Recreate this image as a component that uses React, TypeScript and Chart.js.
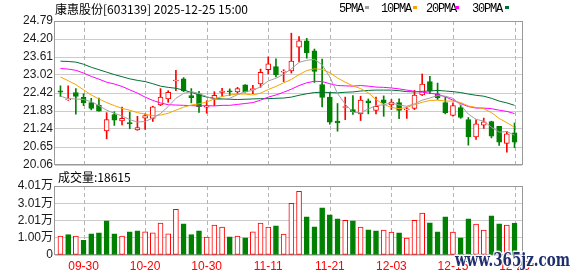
import React, { useEffect, useRef } from 'react';
import { Chart, registerables } from 'chart.js';
Chart.register(...registerables);

const DATES = ['09-25','09-26','09-29','09-30','10-09','10-10','10-13','10-14','10-15','10-16','10-17','10-20','10-21','10-22','10-23','10-24','10-27','10-28','10-29','10-30','10-31','11-03','11-04','11-05','11-06','11-07','11-10','11-11','11-12','11-13','11-14','11-17','11-18','11-19','11-20','11-21','11-24','11-25','11-26','11-27','11-28','12-01','12-02','12-03','12-04','12-05','12-08','12-09','12-10','12-11','12-12','12-15','12-16','12-17','12-18','12-19','12-22','12-23','12-24','12-25'];

const OPEN = [22.50,22.20,22.44,22.28,22.11,22.02,21.18,21.72,21.51,21.45,21.21,21.60,21.59,22.03,22.23,
  22.82,22.89,22.34,22.40,21.96,22.23,22.44,22.49,22.46,22.69,22.53,22.72,23.19,23.29,23.11,
  23.15,23.93,24.14,23.81,22.70,22.29,21.50,21.95,21.88,21.74,22.17,21.85,22.20,22.03,22.11,
  21.87,21.92,22.36,22.80,22.40,22.11,21.69,21.95,21.55,20.98,21.37,21.49,21.33,20.77,21.12];
const HIGH = [22.66,22.66,22.57,22.40,22.25,22.26,21.78,21.81,21.96,21.80,21.66,21.74,21.99,22.57,22.50,
  23.17,22.93,22.57,22.48,22.17,22.47,22.58,22.56,22.61,22.70,22.68,23.21,23.61,23.55,23.19,
  24.39,24.28,24.22,23.87,23.54,22.45,22.08,22.29,22.34,22.32,22.23,22.29,22.33,22.21,22.23,
  21.97,22.51,23.05,22.97,22.75,22.28,22.10,22.03,21.62,21.55,21.60,21.50,21.33,21.17,21.44];
const LOW = [22.31,22.18,21.73,22.01,21.87,21.83,20.92,21.36,21.38,21.25,21.20,21.23,21.49,22.01,22.12,
  22.50,22.47,22.10,21.79,21.76,22.01,22.32,22.34,22.41,22.45,22.40,22.61,23.05,22.95,22.80,
  23.08,23.45,23.57,22.77,21.97,21.40,21.17,21.55,21.72,21.52,21.74,21.74,21.66,21.88,21.58,
  21.59,21.88,22.34,22.40,22.21,21.74,21.66,21.59,20.71,20.90,21.26,20.95,20.70,20.48,20.63];
const CLOSE = [22.45,22.22,22.31,22.10,21.92,21.83,21.55,21.53,21.59,21.41,21.29,21.68,21.97,22.29,22.45,
  22.85,22.49,22.27,21.98,22.00,22.35,22.49,22.46,22.57,22.46,22.57,23.10,23.38,23.02,23.14,
  23.47,24.14,23.75,23.13,22.28,21.47,21.44,21.97,21.81,22.19,22.10,21.99,22.10,22.13,21.85,
  21.89,22.36,22.72,22.49,22.26,21.78,22.01,21.62,20.98,21.41,21.48,21.01,20.81,21.08,20.81];
const PREV_CLOSE = 22.38;

const VOLUME = [11000,11800,11000,8500,12300,12900,19900,12300,11000,13500,14100,13500,12900,18500,12300,
  26600,18100,11800,14100,10400,17400,16200,10600,11000,10000,13500,18500,16200,17000,12100,
  30100,37000,22200,16400,27400,23300,21000,20200,19900,16200,14700,14100,14500,13300,12900,
  9800,20200,24300,18700,13500,22200,13300,10000,21000,17900,14500,22700,18100,17400,18615];

const MA5 = [22.32,22.24,22.23,22.21,22.14,22.01,21.86,21.76,21.67,21.55,21.47,21.49,21.60,21.75,21.98,
  22.25,22.41,22.47,22.41,22.31,22.21,22.21,22.25,22.37,22.47,22.51,22.63,22.82,22.91,23.04,
  23.22,23.43,23.50,23.53,23.35,22.95,22.41,22.06,21.79,21.78,21.90,22.01,22.04,22.10,22.03,
  21.99,22.07,22.19,22.26,22.34,22.32,22.25,22.03,21.73,21.56,21.50,21.30,21.14,21.16,21.04];
const MA10 = [22.95,22.83,22.70,22.53,22.36,22.23,22.11,22.01,21.92,21.86,21.78,21.73,21.68,21.70,21.76,
  21.86,21.96,22.03,22.07,22.13,22.23,22.31,22.36,22.39,22.39,22.36,22.42,22.54,22.64,22.76,
  22.87,23.03,23.16,23.22,23.20,23.09,22.92,22.78,22.66,22.57,22.43,22.21,22.05,21.95,21.91,
  21.95,22.04,22.12,22.18,22.19,22.16,22.16,22.11,22.00,21.95,21.91,21.78,21.59,21.45,21.30];
const MA20 = [23.23,23.21,23.17,23.08,22.97,22.88,22.78,22.72,22.64,22.53,22.42,22.29,22.18,22.10,22.04,
  22.03,22.02,22.01,22.00,22.01,22.00,22.02,22.02,22.05,22.08,22.11,22.19,22.29,22.36,22.45,
  22.55,22.67,22.76,22.81,22.80,22.73,22.67,22.66,22.65,22.67,22.65,22.62,22.61,22.59,22.56,
  22.52,22.48,22.45,22.42,22.38,22.30,22.19,22.08,21.98,21.93,21.93,21.91,21.86,21.82,21.75];
const MA30 = [23.47,23.46,23.44,23.37,23.27,23.19,23.11,23.03,22.96,22.89,22.84,22.80,22.73,22.65,22.61,
  22.58,22.52,22.45,22.36,22.29,22.25,22.23,22.22,22.21,22.22,22.23,22.24,22.24,22.25,22.26,
  22.29,22.35,22.40,22.44,22.45,22.44,22.43,22.45,22.46,22.49,22.51,22.52,22.52,22.52,22.50,
  22.47,22.46,22.48,22.49,22.51,22.49,22.47,22.44,22.39,22.35,22.32,22.25,22.16,22.10,22.02];

const X_TICK_INDEX = [3, 11, 19, 27, 35, 43, 51, 59];
const PRICE_TICK_LABELS = ['20.06','20.65','21.24','21.83','22.42','23.02','23.61','24.20','24.79'];
const PRICE_MIN = 20.06;
const PRICE_MAX = 24.79;
const VOL_TICK_LABELS = ['0','1.00万','2.01万','3.01万','4.01万'];
const VOL_MAX = 40100;

const TITLE = '康惠股份[603139] 2025-12-25 15:00';
const VOL_LABEL = '成交量:18615';
const LEGEND = ['5PMA', '10PMA', '20PMA', '30PMA'];

const UP = '#ff0000';
const DOWN = '#008000';
const MA_COLORS = ['#a0a0a0', '#f5a400', '#ff00ff', '#006f35'];
const GRID = '#cccccc';
const VGRID = '#b4b4b4';
const FRAME = '#999999';
const TICK_FONT = { family: '"Liberation Sans", "Noto Sans CJK SC", sans-serif', size: 12 };

const X_MIN = -0.71;
const X_MAX = 59.97;

// frame + dashed vertical grid at the x-axis ticks (positions from the chart's own x scale)
const framePlugin = {
  id: 'frame',
  beforeDatasetsDraw(chart: any) {
    const { ctx, chartArea: a } = chart;
    const xs = chart.scales.x;
    ctx.save();
    ctx.strokeStyle = VGRID;
    ctx.lineWidth = 1;
    ctx.setLineDash([4, 3]);
    for (const idx of X_TICK_INDEX) {
      const px = Math.round(xs.getPixelForValue(idx)) + 0.5;
      ctx.beginPath();
      ctx.moveTo(px, a.top);
      ctx.lineTo(px, a.bottom);
      ctx.stroke();
    }
    ctx.setLineDash([]);
    ctx.strokeStyle = FRAME;
    ctx.strokeRect(Math.round(a.left) - 0.5, Math.round(a.top) + 0.5, Math.round(a.right - a.left) + 1, Math.round(a.bottom - a.top) - 1);
    ctx.restore();
  },
};

const watermarkPlugin = {
  id: 'wm',
  afterDraw(chart: any) {
    const ctx = chart.ctx;
    const text = 'www.365jz.com';
    ctx.save();
    ctx.font = 'bold 18px "DejaVu Serif"';
    const w = ctx.measureText(text).width;
    ctx.translate(455, 266);
    ctx.scale(115 / w, 1);
    ctx.lineJoin = 'round';
    ctx.lineWidth = 3;
    ctx.strokeStyle = 'rgba(255,255,255,0.9)';
    ctx.strokeText(text, 0, 0);
    ctx.fillStyle = '#1f2f6e';
    ctx.fillText(text, 0, 0);
    ctx.restore();
  },
};

function xAxis(showLabels: boolean) {
  return {
    type: 'linear',
    min: X_MIN,
    max: X_MAX,
    offset: false,
    afterBuildTicks: (s: any) => { s.ticks = X_TICK_INDEX.map((v) => ({ value: v })); },
    afterFit: (s: any) => { s.height = showLabels ? 21 : 0; },
    grid: { display: false, drawTicks: false, offset: false },
    border: { display: false },
    ticks: {
      display: showLabels,
      autoSkip: false,
      maxRotation: 0,
      padding: 4,
      color: '#ff0000',
      font: TICK_FONT,
      callback: (v: any) => DATES[v] ?? '',
    },
  };
}

const isUp = (i: number) => CLOSE[i] >= OPEN[i];
const volUp = (i: number) => CLOSE[i] >= (i === 0 ? PREV_CLOSE : CLOSE[i - 1]);

export default function App() {
  const mainRef = useRef<HTMLCanvasElement>(null);
  const volRef = useRef<HTMLCanvasElement>(null);

  useEffect(() => {
    const maLines = [MA5, MA10, MA20, MA30].map((arr, k) => ({
      type: 'line',
      data: arr.map((y, i) => ({ x: i, y })),
      borderColor: MA_COLORS[k],
      borderWidth: 1,
      pointRadius: 0,
      tension: 0,
      fill: false,
      order: 0,
    }));
    const main = new Chart(mainRef.current!, {
      type: 'bar',
      data: {
        datasets: [
          ...maLines,
          {
            type: 'bar',
            data: OPEN.map((o, i) => ({ x: i, y: [o, CLOSE[i]] })),
            backgroundColor: OPEN.map((_, i) => (isUp(i) ? '#ffffff' : DOWN)),
            borderColor: OPEN.map((_, i) => (isUp(i) ? UP : DOWN)),
            borderWidth: 1,
            borderSkipped: false,
            barThickness: 5,
            minBarLength: 1,
            grouped: false,
            order: 1,
          },
          {
            type: 'bar',
            data: LOW.map((l, i) => ({ x: i, y: [l, HIGH[i]] })),
            backgroundColor: OPEN.map((_, i) => (isUp(i) ? UP : DOWN)),
            borderWidth: 0,
            barThickness: 1,
            grouped: false,
            order: 2,
          },
        ] as any,
      },
      options: {
        responsive: false,
        animation: false,
        events: [],
        layout: { padding: { left: 0, right: 56, top: 21, bottom: 111 } },
        plugins: { legend: { display: false }, tooltip: { enabled: false } },
        scales: {
          x: xAxis(false) as any,
          y: {
            type: 'linear',
            min: PRICE_MIN,
            max: PRICE_MAX,
            afterBuildTicks: (s: any) => {
              const n = PRICE_TICK_LABELS.length - 1;
              s.ticks = PRICE_TICK_LABELS.map((_, k) => ({ value: PRICE_MIN + (k * (PRICE_MAX - PRICE_MIN)) / n }));
            },
            afterFit: (s: any) => { s.width = 55; },
            grid: { color: GRID, drawTicks: false },
            border: { display: false },
            ticks: {
              autoSkip: false,
              padding: 2,
              color: '#1a1a1a',
              font: TICK_FONT,
              callback: (_v: any, i: number) => PRICE_TICK_LABELS[i],
            },
          },
        },
      },
      plugins: [framePlugin],
    } as any);

    const vol = new Chart(volRef.current!, {
      type: 'bar',
      data: {
        datasets: [
          {
            data: VOLUME.map((v, i) => ({ x: i, y: v })),
            backgroundColor: VOLUME.map((_, i) => (volUp(i) ? '#ffffff' : DOWN)),
            borderColor: VOLUME.map((_, i) => (volUp(i) ? UP : DOWN)),
            borderWidth: 1,
            borderSkipped: false,
            barThickness: 5,
            grouped: false,
          },
        ] as any,
      },
      options: {
        responsive: false,
        animation: false,
        events: [],
        layout: { padding: { left: 0, right: 56, top: 186, bottom: 0 } },
        plugins: { legend: { display: false }, tooltip: { enabled: false } },
        scales: {
          x: xAxis(true) as any,
          y: {
            type: 'linear',
            min: 0,
            max: VOL_MAX,
            afterBuildTicks: (s: any) => {
              const n = VOL_TICK_LABELS.length - 1;
              s.ticks = VOL_TICK_LABELS.map((_, k) => ({ value: (k * VOL_MAX) / n }));
            },
            afterFit: (s: any) => { s.width = 55; },
            grid: { color: GRID, drawTicks: false },
            border: { display: false },
            ticks: {
              autoSkip: false,
              padding: 2,
              color: '#1a1a1a',
              font: TICK_FONT,
              callback: (_v: any, i: number) => VOL_TICK_LABELS[i],
            },
          },
        },
      },
      plugins: [framePlugin, watermarkPlugin],
    } as any);

    return () => {
      main.destroy();
      vol.destroy();
    };
  }, []);

  const legendX = [339, 381, 426, 472];
  const markerX = [365, 413, 455, 505];

  return (
    <div style={{ position: 'fixed', left: 0, top: 0, width: 578, height: 276, background: '#fff', overflow: 'hidden' }}>
      <canvas ref={mainRef} width={578} height={276} style={{ position: 'absolute', left: 0, top: 0 }} />
      <canvas ref={volRef} width={578} height={276} style={{ position: 'absolute', left: 0, top: 0 }} />
      <div style={{ position: 'absolute', left: 55, top: 1, font: '12px "Noto Sans CJK SC", sans-serif', lineHeight: '16px', color: '#000', whiteSpace: 'nowrap' }}>
        {TITLE}
      </div>
      {LEGEND.map((t, k) => (
        <React.Fragment key={t}>
          <div style={{ position: 'absolute', left: legendX[k], top: 2, font: '12px "Liberation Mono", monospace', letterSpacing: '-1.2px', lineHeight: '14px', color: '#000', whiteSpace: 'nowrap' }}>
            {t}
          </div>
          <div style={{ position: 'absolute', left: markerX[k], top: 6, width: 4, height: 3, background: MA_COLORS[k] }} />
        </React.Fragment>
      ))}
      <div style={{ position: 'absolute', left: 58, top: 169, font: '12px "Noto Sans CJK SC", sans-serif', lineHeight: '16px', color: '#000', whiteSpace: 'nowrap' }}>
        {VOL_LABEL}
      </div>
    </div>
  );
}
